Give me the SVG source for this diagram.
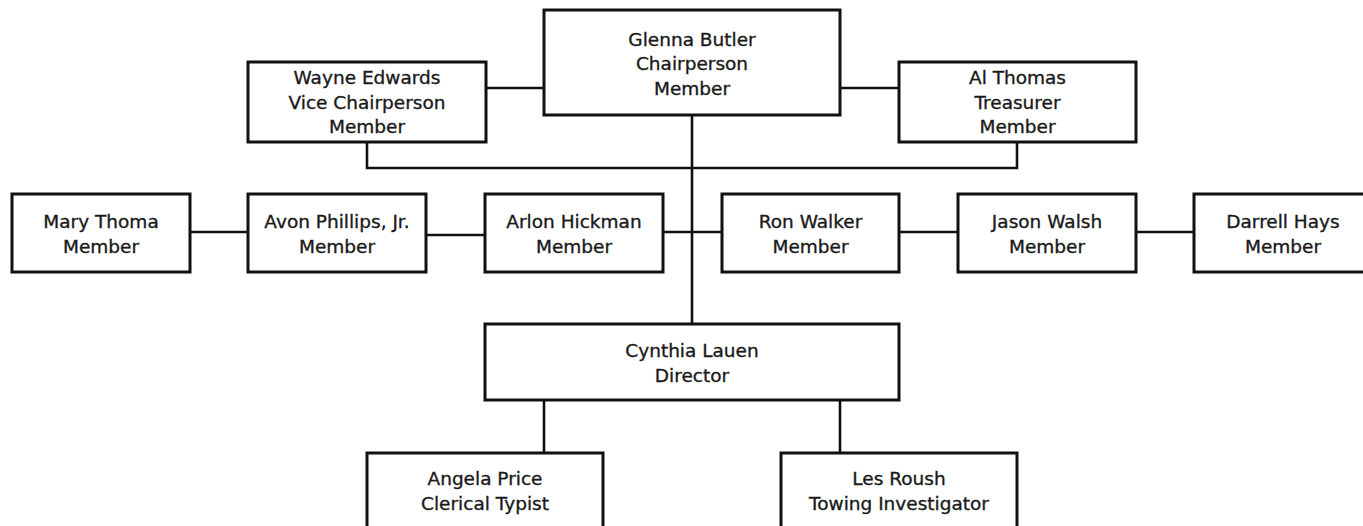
<svg xmlns="http://www.w3.org/2000/svg" width="1363" height="526" viewBox="0 0 1363 526">
<style>
.box{fill:#fff;stroke:#111;stroke-width:3}
.ln{fill:none;stroke:#111;stroke-width:2.6}
text{font-family:"DejaVu Sans",Verdana,sans-serif;font-size:18.5px;fill:#1a1a1a;stroke:#1a1a1a;stroke-width:0.35;text-anchor:middle}
</style>
<rect width="1363" height="526" fill="#fff"/>
<g id="connectors">
<path class="ln" d="M486 88H544M840 88H899M692 115V324M367 142V168H1017V142"/>
<path class="ln" d="M190 232H248M426 235H485M663 232H722M899 232H958M1136 232H1194"/>
<path class="ln" d="M544 400V453M840 400V453"/>
</g>
<g id="glenna"><rect class="box" x="544" y="10" width="296" height="105"/><text x="692" y="46">Glenna Butler</text><text x="692" y="70">Chairperson</text><text x="692" y="95">Member</text></g>
<g id="wayne"><rect class="box" x="248" y="62" width="238" height="80"/><text x="367" y="84">Wayne Edwards</text><text x="367" y="109">Vice Chairperson</text><text x="367" y="133">Member</text></g>
<g id="al"><rect class="box" x="899" y="62" width="237" height="80"/><text x="1017.5" y="84">Al Thomas</text><text x="1017.5" y="109">Treasurer</text><text x="1017.5" y="133">Member</text></g>
<g id="mary"><rect class="box" x="12" y="194" width="178" height="78"/><text x="101" y="228">Mary Thoma</text><text x="101" y="253">Member</text></g>
<g id="avon"><rect class="box" x="248" y="194" width="178" height="78"/><text x="337" y="228">Avon Phillips, Jr.</text><text x="337" y="253">Member</text></g>
<g id="arlon"><rect class="box" x="485" y="194" width="178" height="78"/><text x="574" y="228">Arlon Hickman</text><text x="574" y="253">Member</text></g>
<g id="ron"><rect class="box" x="722" y="194" width="177" height="78"/><text x="810.5" y="228">Ron Walker</text><text x="810.5" y="253">Member</text></g>
<g id="jason"><rect class="box" x="958" y="194" width="178" height="78"/><text x="1047" y="228">Jason Walsh</text><text x="1047" y="253">Member</text></g>
<g id="darrell"><rect class="box" x="1194" y="194" width="178" height="78"/><text x="1283" y="228">Darrell Hays</text><text x="1283" y="253">Member</text></g>
<g id="cynthia"><rect class="box" x="485" y="324" width="414" height="76"/><text x="692" y="357">Cynthia Lauen</text><text x="692" y="382">Director</text></g>
<g id="angela"><rect class="box" x="367" y="453" width="236" height="90"/><text x="485" y="485">Angela Price</text><text x="485" y="510">Clerical Typist</text></g>
<g id="les"><rect class="box" x="781" y="453" width="236" height="90"/><text x="899" y="485">Les Roush</text><text x="899" y="510">Towing Investigator</text></g>
</svg>
